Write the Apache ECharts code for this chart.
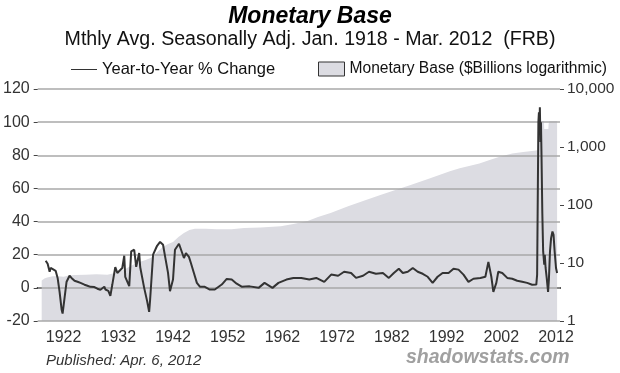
<!DOCTYPE html>
<html>
<head>
<meta charset="utf-8">
<script src="https://cdn.jsdelivr.net/npm/echarts@6/dist/echarts.min.js"></script>
<style>html,body{margin:0;padding:0;background:#fff;}#c{width:620px;height:373px;}</style>
</head>
<body>
<div id="c"></div>
<script>
// Year-to-year % change of monetary base: [year, percent]
var yoyChange = [
[1918.73,16.4],[1919.09,14.5],[1919.45,9.7],[1919.64,12],[1920.18,11],[1920.55,10.3],[1920.91,6],[1921.27,-2.4],[1921.64,-13],[1921.82,-15.5],
[1922.18,-6],[1922.55,3.7],[1923.09,7.3],[1923.45,6],[1924.0,4.3],[1924.55,3.7],[1925.09,3],[1925.82,1.9],[1926.36,1.3],[1926.91,0.6],
[1927.64,0.5],[1928.18,-0.5],[1928.73,-1.1],[1929.45,0.7],[1929.64,-1],[1930.18,-1.8],[1930.55,-4.8],[1930.91,2],[1931.27,9],[1931.45,12.5],
[1931.82,9],[1932.18,8.6],[1932.73,12],[1933.09,19.4],[1933.27,6.6],[1934.0,1],[1934.36,22],[1934.91,23],[1935.27,12.7],[1935.82,21],
[1936.0,12.6],[1936.73,0],[1937.27,-8],[1937.64,-14.5],[1937.82,-7],[1938.36,20],[1939.09,25.4],[1939.64,27.7],[1940.18,26],[1940.55,19],
[1941.09,9],[1941.45,-2],[1942.0,5],[1942.36,23],[1943.09,26.6],[1943.45,26],[1944.0,18],[1944.36,21],[1944.91,18.7],[1945.27,15],
[1945.82,9],[1946.36,3],[1946.91,0.7],[1947.82,0.6],[1948.73,-1],[1949.64,-1],[1950.91,2],[1951.82,5.4],[1952.73,5],[1953.64,2.5],
[1954.55,0.7],[1956.0,0.9],[1957.64,0],[1958.73,3],[1960.18,0],[1961.27,3],[1962.73,5],[1964.0,6],[1965.45,6],[1966.91,5],
[1968.18,6],[1969.64,3.6],[1970.91,8],[1972.18,7.3],[1973.27,9.7],[1974.55,9],[1975.45,6],[1976.73,7.3],[1977.82,9.7],[1979.09,8.5],
[1980.36,9],[1981.45,6],[1982.36,9],[1983.27,11.5],[1984.0,9],[1984.91,9.7],[1985.82,12],[1986.73,9.7],[1987.64,8.5],[1988.55,6.7],
[1989.45,3],[1990.36,6.7],[1991.27,9],[1992.36,9],[1993.27,11.5],[1994.18,11],[1995.09,8],[1996.0,3.6],[1996.91,5.5],[1998.18,6],
[1999.09,6.7],[1999.64,15.7],[2000.18,6.7],[2000.55,-2.4],[2001.09,3],[2001.45,9.7],[2002.18,9],[2003.09,6],[2004.0,5.5],[2004.91,4.3],
[2005.82,3.7],[2006.73,3],[2007.64,1.9],[2008.0,1.3],[2008.4,2],[2008.55,8],[2008.68,60],[2008.78,100],[2008.88,106],[2008.97,95],
[2009.05,109],[2009.15,88],[2009.25,100],[2009.35,80],[2009.5,45],[2009.65,22],[2009.75,18],[2009.85,14],[2009.95,20],[2010.1,12],
[2010.3,6],[2010.55,-2.5],[2010.7,5],[2010.9,22],[2011.1,30],[2011.35,34],[2011.55,32],[2011.75,22],[2012.0,12],[2012.2,9]
];
// Monetary base, $ billions (log scale): [year, value]
var monetaryBase = [
[1918.0,5.0],[1918.5,5.4],[1919.0,5.6],[1920.0,5.9],[1921.0,5.9],[1922.0,5.8],[1923.0,6.1],[1924.0,6.2],[1926.0,6.3],[1928.0,6.4],
[1930.0,6.3],[1931.0,6.6],[1932.0,7.2],[1933.0,7.6],[1934.0,8.6],[1935.0,9.6],[1936.0,10.5],[1937.0,11.3],[1938.0,12.3],[1939.0,15],
[1940.0,18.5],[1941.0,21],[1942.0,23],[1943.0,28],[1944.0,33],[1945.0,37],[1946.0,39],[1948.0,39],[1950.0,38],[1952.7,38],
[1955.0,40],[1958.0,41],[1961.7,43],[1964.0,47],[1966.6,53],[1968.5,62],[1970.8,73],[1974.0,95],[1977.0,120],[1979.9,148],
[1982.5,180],[1985.3,220],[1989.0,290],[1992.6,380],[1994.4,430],[1998.0,520],[2000.0,600],[2001.7,680],[2004.0,770],[2006.0,820],
[2008.0,860],[2008.6,880],[2008.75,2800],[2009.8,2800],[2009.85,2050],[2010.6,2050],[2010.65,2500],[2010.8,2800],[2012.2,2800]
];
var yearTicks = [1922,1932,1942,1952,1962,1972,1982,1992,2002,2012];
var leftTicks = [-20,0,20,40,60,80,100,120];
var rightTicks = [1,10,100,1000,10000];

var FONT = 'Liberation Sans, Arial, sans-serif';
var chart = echarts.init(document.getElementById('c'), null, {renderer:'canvas'});
chart.setOption({
  animation:false,
  backgroundColor:'#fff',
  title:[
    {text:'Monetary Base', left:'center', top:0, textStyle:{fontFamily:FONT, fontSize:23, fontWeight:'bold', fontStyle:'italic', color:'#000'}},
    {text:'Mthly Avg. Seasonally Adj. Jan. 1918 - Mar. 2012  (FRB)', left:'center', top:25, textStyle:{fontFamily:FONT, fontSize:19.6, fontWeight:'normal', color:'#111'}},
    {text:'Published: Apr. 6, 2012', left:41, top:348, textStyle:{fontFamily:FONT, fontSize:15, fontWeight:'normal', fontStyle:'italic', color:'#333'}},
    {text:'shadowstats.com', left:401, top:343, textStyle:{fontFamily:FONT, fontSize:19.5, fontWeight:'bold', fontStyle:'italic', color:'#a0a0a0'}}
  ],
  legend:[
    {left:66, top:56, itemWidth:26, itemHeight:13, itemGap:0,
     textStyle:{fontFamily:FONT, fontSize:16.5, color:'#111'},
     data:[{name:'Year-to-Year % Change', icon:'path://M0,6 L26,6 L26,7 L0,7 Z', itemStyle:{color:'#333'}}]},
    {left:313, top:56, itemWidth:26, itemHeight:14, itemGap:0,
     textStyle:{fontFamily:FONT, fontSize:15.6, color:'#111'},
     data:[{name:'Monetary Base ($Billions logarithmic)', icon:'rect', itemStyle:{color:'#dcdce2', borderColor:'#333', borderWidth:1}}]}
  ],
  grid:{left:35, right:60, top:89, bottom:52, containLabel:false},
  xAxis:{
    type:'value', min:1917.27, max:2012.73,
    axisLine:{show:true, lineStyle:{color:'#222', width:2}},
    axisTick:{show:true, length:5, customValues:yearTicks, lineStyle:{color:'#222', width:2}},
    axisLabel:{customValues:yearTicks, fontFamily:FONT, fontSize:16, color:'#333', margin:9,
      formatter:function(v){return String(Math.round(v));}},
    splitLine:{show:false}
  },
  yAxis:[
    {type:'value', min:-20, max:120, interval:20, z:3,
     axisLine:{show:false},
     axisTick:{show:true, length:4, lineStyle:{color:'#444'}},
     axisLabel:{fontFamily:FONT, fontSize:16, color:'#333', margin:8, showMinLabel:true},
     splitLine:{show:true, lineStyle:{color:'#a8a8a8', width:1.5}}
    },
    {type:'log', logBase:10, min:1, max:10000, position:'right',
     axisLine:{show:false},
     axisTick:{show:true, length:4, lineStyle:{color:'#444'}},
     axisLabel:{fontFamily:FONT, fontSize:15.5, color:'#333', margin:7,
       formatter:function(v){return Math.round(v).toLocaleString('en-US');}},
     splitLine:{show:false}
    }
  ],
  series:[
    {name:'Monetary Base ($Billions logarithmic)', type:'line', yAxisIndex:1, data:monetaryBase,
     symbol:'none', z:1, lineStyle:{width:0, color:'#dcdce2'}, itemStyle:{color:'#dcdce2'},
     areaStyle:{color:'#dcdce2', opacity:1, origin:'start'}},
    {name:'Year-to-Year % Change', type:'line', yAxisIndex:0, data:yoyChange,
     symbol:'none', z:5, lineStyle:{width:2, color:'#333'}, itemStyle:{color:'#333'}}
  ]
});
</script>
</body>
</html>
